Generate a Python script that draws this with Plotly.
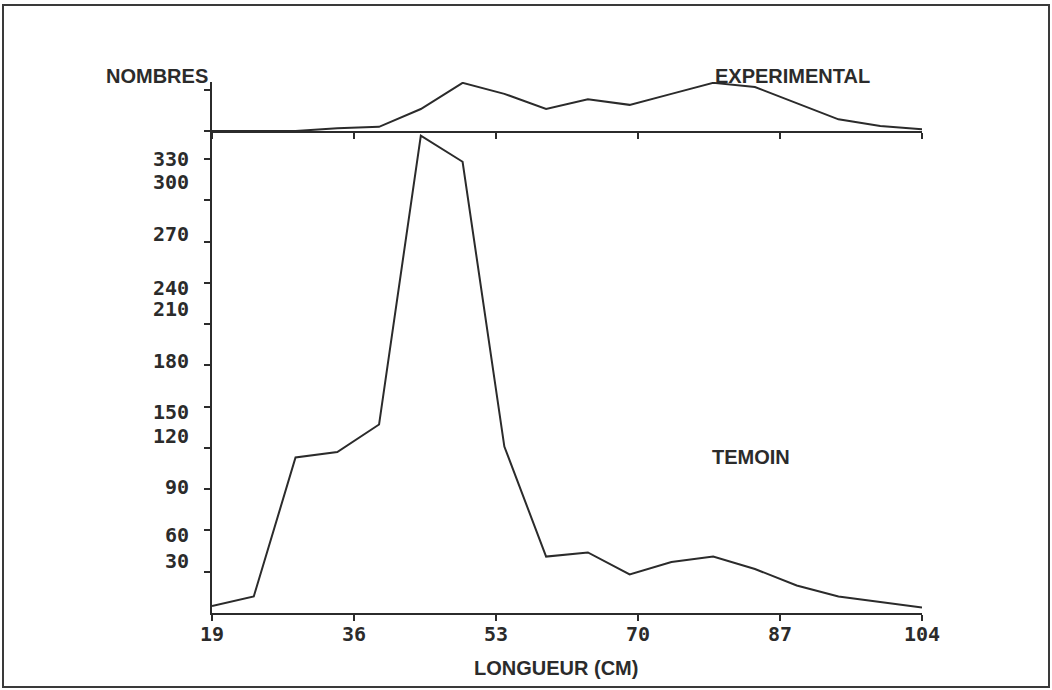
import plotly.graph_objects as go

# Length classes (cm) and counts for the two samples
LENGTH_CM = [19, 24, 29, 34, 39, 44, 49, 54, 59, 64, 69, 74, 79, 84, 89, 94, 99, 104]
TEMOIN = [5, 12, 113, 117, 137, 347, 328, 121, 41, 44, 28, 37, 41, 32, 20, 12, 8, 4]
EXPERIMENTAL = [0, 0, 0, 2, 3, 16, 35, 27, 16, 23, 19, 27, 35, 32, 20, 8.5, 3.6, 1.2]

X_TICKS = [19, 36, 53, 70, 87, 104]
Y_TICKS = [30, 60, 90, 120, 150, 180, 210, 240, 270, 300, 330]
Y_TICK_LABELS = ["30", "60", "90", "120", "150", "180", "210", "240", "270", "300", "330"]
TOP_Y_TICKS = [0, 30]

# vertical pixel offsets of the count labels relative to their tick marks
LABEL_SHIFT = [11, -5, 2, 12, -5, 4, 15, -5, 8, 18, 0]

INK = "#2b2b2b"
MONO = "DejaVu Sans Mono"
SANS = "Liberation Sans, Arial"

W, H = 1052, 690
L, R, T, B = 212, 130, 82, 77
PLOT_W = W - L - R
PLOT_H = H - T - B
SPLIT = 482 / PLOT_H  # bottom panel share of the plotting height


def px_x(p):
    return (p - L) / PLOT_W


def px_y(p):
    return (H - B - p) / PLOT_H


fig = go.Figure()

fig.add_trace(go.Scatter(
    x=LENGTH_CM, y=TEMOIN, mode="lines",
    line=dict(color=INK, width=2), xaxis="x", yaxis="y",
    showlegend=False, hoverinfo="skip",
))
fig.add_trace(go.Scatter(
    x=LENGTH_CM, y=EXPERIMENTAL, mode="lines",
    line=dict(color=INK, width=2), xaxis="x2", yaxis="y2",
    showlegend=False, hoverinfo="skip",
))

axis_common = dict(showgrid=False, zeroline=False, showline=True,
                   linecolor=INK, linewidth=2, ticks="outside",
                   tickcolor=INK, tickwidth=2, ticklen=6)

fig.update_layout(
    width=W, height=H,
    margin=dict(l=L, r=R, t=T, b=B, pad=0),
    paper_bgcolor="white", plot_bgcolor="white",
    xaxis=dict(range=[19, 104], domain=[0, 1], anchor="y",
               tickvals=X_TICKS, ticktext=[str(v) for v in X_TICKS],
               tickfont=dict(family=MONO, size=20, color=INK, weight="bold"),
               ticklabelstandoff=-4,
               **axis_common),
    yaxis=dict(range=[0, 482 / 1.3758], domain=[0, SPLIT], anchor="x",
               tickvals=Y_TICKS, showticklabels=False, **axis_common),
    xaxis2=dict(range=[19, 104], domain=[0, 1], anchor="y2",
                tickvals=X_TICKS, showticklabels=False, **axis_common),
    yaxis2=dict(range=[0, 49 / 1.3758], domain=[SPLIT, 1], anchor="x2",
                tickvals=TOP_Y_TICKS, showticklabels=False, **axis_common),
)

# count labels on the left axis
for val, txt, dy in zip(Y_TICKS, Y_TICK_LABELS, LABEL_SHIFT):
    fig.add_annotation(
        x=0, xref="paper", y=val, yref="y", xanchor="right", yanchor="middle",
        xshift=-21, yshift=dy, text=txt, showarrow=False,
        font=dict(family=MONO, size=20, color=INK, weight="bold"),
    )

# titles
titles = [
    ("NOMBRES", 157, 76),
    ("EXPERIMENTAL", 792, 76),
    ("TEMOIN", 751, 457),
    ("LONGUEUR (CM)", 556, 668),
]
for txt, cx, cy in titles:
    fig.add_annotation(
        x=px_x(cx), y=px_y(cy), xref="paper", yref="paper",
        xanchor="center", yanchor="middle", text=txt, showarrow=False,
        font=dict(family=SANS, size=20, color=INK, weight="bold"),
    )

# outer frame
fig.add_shape(type="rect", xref="paper", yref="paper",
              x0=px_x(3), x1=px_x(1049), y0=px_y(687), y1=px_y(5),
              line=dict(color="#3a3a3a", width=2), fillcolor="rgba(0,0,0,0)")

fig.write_html("out.html")
